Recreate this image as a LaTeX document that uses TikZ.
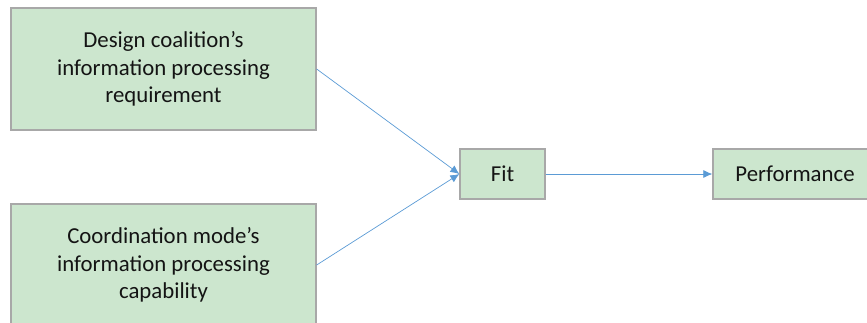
\documentclass[tikz,border=0pt]{standalone}
\usepackage{fontspec}
\setmainfont{Carlito}
\usetikzlibrary{arrows.meta}
\definecolor{boxfill}{RGB}{204,230,206}
\definecolor{boxline}{RGB}{168,168,168}
\definecolor{arrowc}{RGB}{91,155,213}
\definecolor{txt}{RGB}{20,20,20}
\begin{document}
\begin{tikzpicture}[x=1pt,y=1pt,
  box/.style={draw=boxline,line width=1.3pt,fill=boxfill,inner sep=0pt,align=center,
    font=\fontsize{22.8}{27.5}\selectfont,text=txt},
  conn/.style={draw=arrowc,line width=0.7pt,-{Latex[length=9pt,width=8pt]}}]
\useasboundingbox (0,0) rectangle (867,-322);
\clip (0,0) rectangle (867,-322);
\node[box,minimum width=305,minimum height=122] (req) at (163.5,-69) {Design coalition’s\\information processing\\requirement};
\node[box,minimum width=305,minimum height=122] (cap) at (163.5,-265) {Coordination mode’s\\information processing\\capability};
\node[box,minimum width=85,minimum height=50] (fit) at (502.5,-174) {Fit};
\node[box,minimum width=164,minimum height=50] (perf) at (795,-174) {Performance};
\draw[conn] (req.east) -- (fit.west);
\draw[conn] (cap.east) -- (fit.west);
\draw[conn] (fit.east) -- (perf.west);
\end{tikzpicture}
\end{document}
